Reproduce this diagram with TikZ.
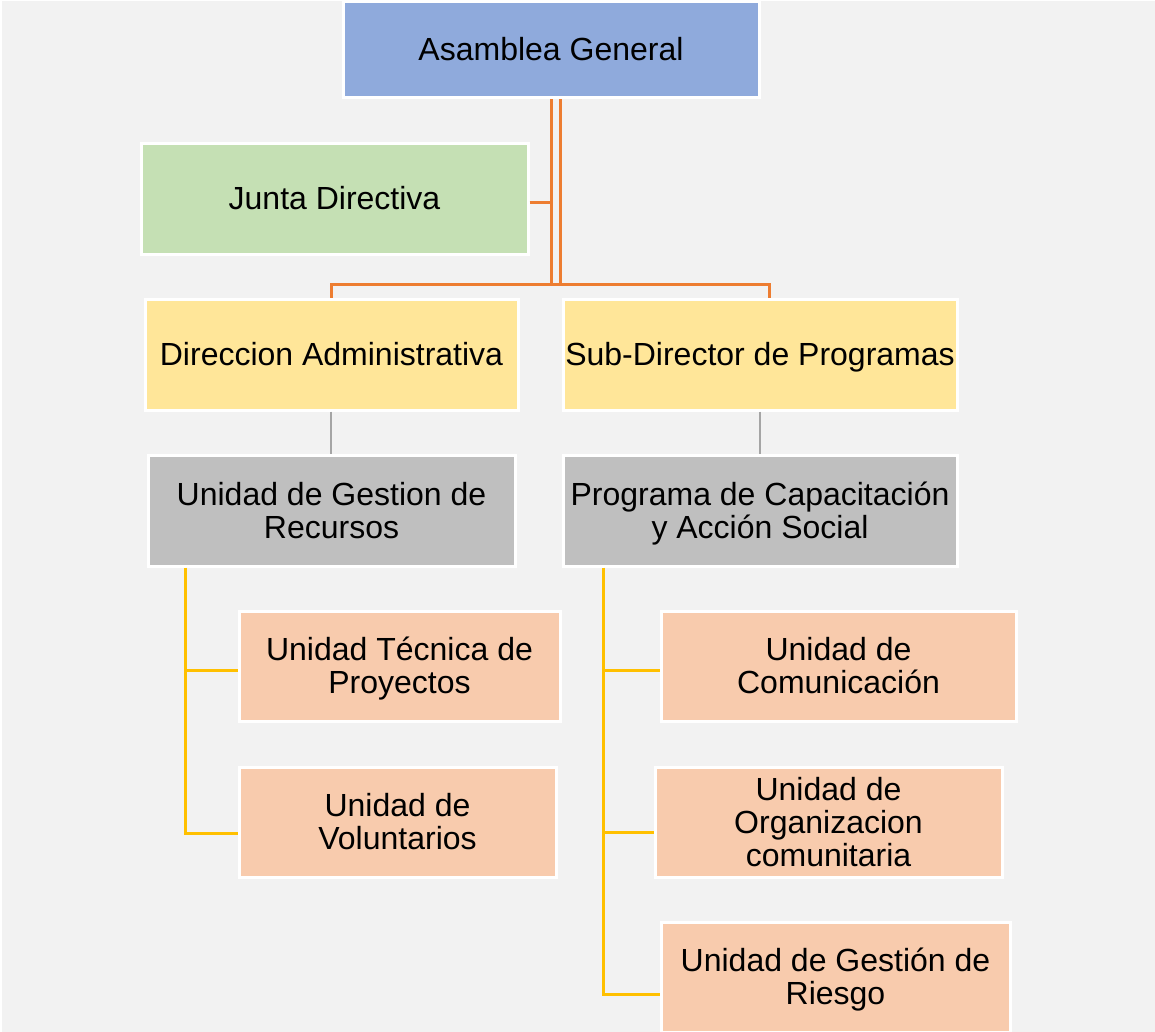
\documentclass[tikz,border=0pt]{standalone}
\usepackage{fontspec}
\setmainfont{Liberation Sans}
\definecolor{bgc}{HTML}{F2F2F2}
\definecolor{bluec}{HTML}{8FAADC}
\definecolor{greenc}{HTML}{C5E0B4}
\definecolor{yellowc}{HTML}{FFE699}
\definecolor{grayc}{HTML}{BFBFBF}
\definecolor{peachc}{HTML}{F8CBAD}
\definecolor{orangec}{HTML}{ED7D31}
\definecolor{goldc}{HTML}{FFC000}
\definecolor{linegray}{HTML}{A5A5A5}
\tikzset{
  box/.style={draw=white, line width=3pt, rectangle, align=center, inner sep=0pt,
    font=\fontsize{32}{33}\selectfont},
  oline/.style={draw=orangec, line width=3pt},
  gline/.style={draw=linegray, line width=2pt},
  yline/.style={draw=goldc, line width=3pt},
}
\newcommand{\bxtop}{\vrule height 29pt depth 0pt width 0pt}
\newcommand{\bxbot}{\vrule height 0pt depth 7pt width 0pt}
\newcommand{\bx}[7]{% name, x1, y1, x2, y2, fill, text
  \node[box, fill=#6, minimum width={#4-#2}, minimum height={#5-#3}]
    (#1) at ({(#2+#4)/2},{(#3+#5)/2}) {\bxtop#7\bxbot};}
\begin{document}
\begin{tikzpicture}[x=1pt,y=-1pt]
\useasboundingbox (0,0) rectangle (1155,1032);
\fill[white] (0,0) rectangle (1155,1032);
\fill[bgc] (2,1) rectangle (1155,1032);
\bx{ag}{343}{2}{759}{98}{bluec}{Asamblea General}
\bx{jd}{141}{144}{528}{254}{greenc}{Junta Directiva}
\bx{da}{145}{299}{518}{410}{yellowc}{Direccion Administrativa}
\bx{sd}{563}{299}{957}{410}{yellowc}{Sub-Director de Programas}
\bx{ug}{148}{455}{515}{566}{grayc}{Unidad de Gestion de\\Recursos}
\bx{pc}{563}{455}{957}{566}{grayc}{Programa de Capacitación\\y Acción Social}
\bx{ut}{239}{611}{560}{721}{peachc}{Unidad Técnica de\\Proyectos}
\bx{uv}{239}{767}{556}{877}{peachc}{Unidad de\\Voluntarios}
\bx{uc}{661}{611}{1016}{721}{peachc}{Unidad de\\Comunicación}
\bx{uo}{655}{767}{1002}{877}{peachc}{Unidad de\\Organizacion\\comunitaria}
\bx{ur}{661}{922}{1010}{1032}{peachc}{Unidad de Gestión de\\Riesgo}
% orange connectors
\coordinate (v1) at (551,284);
\coordinate (v2) at (560,284);
\coordinate (jj) at (551,203);
\draw[oline] (ag.south -| v1) -- (v1);
\draw[oline] (ag.south -| v2) -- (v2);
\draw[oline] (jd.east |- jj) -- (jj);
\coordinate (hl) at (331,284);
\coordinate (hr) at (769,284);
\draw[oline] (da.north -| hl) -- (hl) -- (hr) -- (sd.north -| hr);
% gray connectors
\coordinate (gl) at (331,430);
\coordinate (gr) at (760,430);
\draw[gline] (da.south -| gl) -- (ug.north -| gl);
\draw[gline] (sd.south -| gr) -- (pc.north -| gr);
% yellow connectors
\coordinate (lb) at (185,833);
\draw[yline] (ug.south -| lb) -- (lb) -- (uv.west |- lb);
\coordinate (lm) at (185,670);
\draw[yline] (lm) -- (ut.west |- lm);
\coordinate (rb) at (603,994);
\draw[yline] (pc.south -| rb) -- (rb) -- (ur.west |- rb);
\coordinate (rm1) at (603,670);
\coordinate (rm2) at (603,832);
\draw[yline] (rm1) -- (uc.west |- rm1);
\draw[yline] (rm2) -- (uo.west |- rm2);
\end{tikzpicture}
\end{document}
